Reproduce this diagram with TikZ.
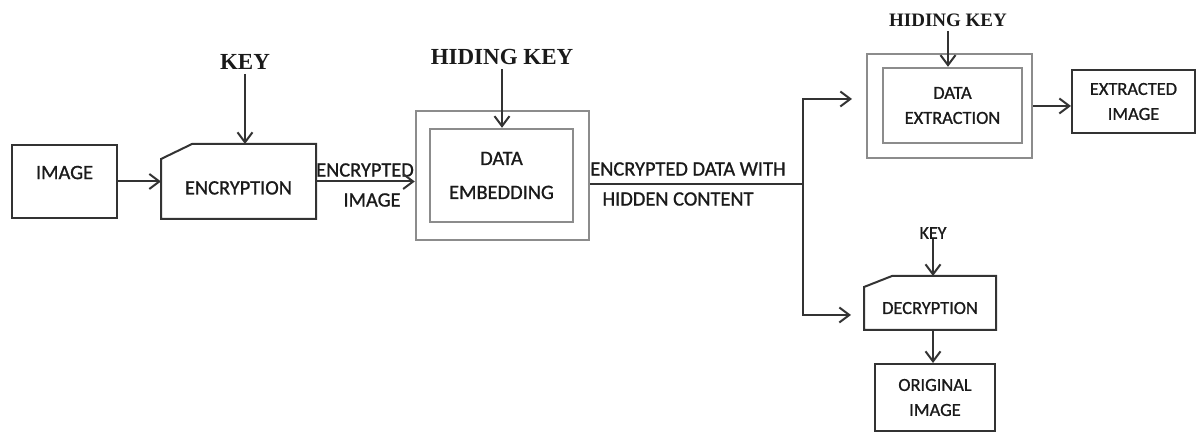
\documentclass[tikz,border=0pt]{standalone}
\usepackage{fontspec}
\setmainfont{Liberation Serif}
\setsansfont{Carlito}[FakeBold=1.0]
\usetikzlibrary{arrows.meta,positioning,calc}
\definecolor{FlowInk}{HTML}{333333}
\definecolor{FlowGrey}{HTML}{8C8C8C}
\definecolor{FlowText}{HTML}{1A1A1A}

\begin{document}
\begin{tikzpicture}[
    x=0.5pt, y=-0.5pt,
    box/.style={draw=FlowInk, line width=1pt, inner sep=0pt, align=center,
      text=FlowText, font=\sffamily\fontsize{10.2}{12}\selectfont},
    smalltext/.style={font=\sffamily\fontsize{9.2}{12.5}\selectfont},
    cutbox/.style={box, draw=none},
    outerbox/.style={draw=FlowGrey, line width=1.2pt, inner sep=0pt},
    innerbox/.style={box, draw=FlowGrey, line width=1.2pt,
      font=\sffamily\fontsize{10.2}{17}\selectfont},
    keytext/.style={text=FlowText, inner sep=2pt,
      font=\bfseries\fontsize{11.5}{13}\selectfont},
    flowtext/.style={text=FlowText, inner sep=0pt,
      font=\sffamily\fontsize{10.2}{12}\selectfont},
    line/.style={draw=FlowInk, line width=1pt},
    arrow/.style={line, -{Straight Barb[length=5pt, width=7.5pt]}}
  ]
    \useasboundingbox (0,0) rectangle (1196,432);
    % sender side
    \node[box, minimum width=52.5pt, minimum height=36.5pt, text depth=9pt] (img) at (64.5,181.5) {IMAGE};
    \node[cutbox, minimum width=76.5pt, minimum height=36.5pt, text height=13pt] (enc) at (238.5,181.5) {ENCRYPTION};
    \draw[line] ($(enc.north west)+(0,15)$) -- ($(enc.north west)+(31,0)$) -- (enc.north east)
      -- (enc.south east) -- (enc.south west) -- cycle;
    \node[keytext] (key1) at (245,62) {KEY};
    \node[outerbox, minimum width=86.5pt, minimum height=64.5pt] (embout) at (502.5,175.5) {};
    \node[innerbox, minimum width=71.5pt, minimum height=46.5pt] (embin) at (501.5,175.5) {DATA\\EMBEDDING};
    \node[keytext] (hkey1) at (502,57) {HIDING KEY};
    \node[flowtext] (encl1) at (365,170) {ENCRYPTED};
    \node[flowtext] (encl2) at (372,200) {IMAGE};
    \node[flowtext] (hidl1) at (688,169) {ENCRYPTED DATA WITH};
    \node[flowtext] (hidl2) at (678,199) {HIDDEN CONTENT};
    \coordinate (split) at (803,184);
    \coordinate (upend) at (852,99);
    \coordinate (downend) at (851,315);

    % receiver side
    \node[outerbox, minimum width=82.5pt, minimum height=52pt] (extout) at (949.5,106) {};
    \node[innerbox, smalltext, minimum width=69.5pt, minimum height=37.5pt] (extin) at (952.5,105.5) {DATA\\EXTRACTION};
    \node[keytext, font=\bfseries\fontsize{9.5}{11}\selectfont] (hkey2) at (948,20) {HIDING KEY};
    \node[box, smalltext, minimum width=61.5pt, minimum height=31.5pt] (extimg) at (1133.5,101.5) {EXTRACTED\\IMAGE};
    \node[flowtext, font=\sffamily\fontsize{9}{11}\selectfont] (key2) at (933,233) {KEY};
    \node[cutbox, smalltext, minimum width=65pt, minimum height=26pt, text height=11pt] (dec) at (930,303) {DECRYPTION};
    \draw[line] ($(dec.north west)+(0,11)$) -- ($(dec.north west)+(28,0)$) -- (dec.north east)
      -- (dec.south east) -- (dec.south west) -- cycle;
    \node[box, smalltext, minimum width=60pt, minimum height=33.5pt] (orig) at (935,397.5) {ORIGINAL\\IMAGE};

    \draw[arrow] (img) -- (enc);
    \draw[arrow] (key1.south) -- (key1.south |- enc.north);
    \draw[arrow] (enc.east) -- (enc.east -| embout.west);
    \draw[arrow] (hkey1.south) -- (hkey1.south |- embin.north);
    \draw[line] (split -| embout.east) -- (split);
    \draw[arrow] (split) |- (upend);
    \draw[arrow] (split) |- (downend);
    \draw[arrow] (hkey2.south) -- (hkey2.south |- extin.north);
    \draw[arrow] (extout.east) -- (extout.east -| extimg.west);
    \draw[arrow] (key2.south) -- (key2.south |- dec.north);
    \draw[arrow] (key2 |- dec.south) -- (key2 |- orig.north);
  \end{tikzpicture}
\end{document}
